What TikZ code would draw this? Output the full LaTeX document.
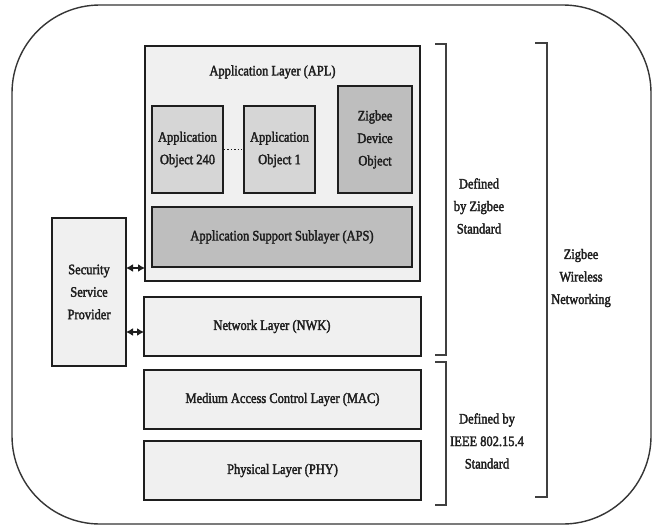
\documentclass[tikz,border=0pt]{standalone}
\usepackage{fontspec}
\setmainfont{Liberation Serif}[FakeStretch=0.86, FakeBold=2.2]
\usetikzlibrary{arrows.meta}
\definecolor{lightfill}{HTML}{F0F0F0}
\definecolor{midfill}{HTML}{D6D6D6}
\definecolor{darkfill}{HTML}{BEBEBE}
\definecolor{ink}{HTML}{1E1E1E}
\begin{document}
\begin{tikzpicture}[x=1pt,y=-1pt,
  every node/.style={font=\fontsize{14.5}{22.5}\selectfont, text=ink, align=center},
  layerbox/.style={draw=ink, line width=2pt, fill=lightfill, inner sep=0pt},
  objbox/.style={draw=ink, line width=2pt, fill=midfill, inner sep=0pt},
  darkbox/.style={draw=ink, line width=2pt, fill=darkfill, inner sep=0pt},
  bracketline/.style={draw=ink!85, line width=1.6pt},
  biarrow/.style={draw=ink, line width=2.4pt, {Latex[length=7pt,width=8pt]}-{Latex[length=7pt,width=8pt]}, shorten <=-1pt, shorten >=-1pt}
]
\useasboundingbox (0,0) rectangle (655,527);
\draw[draw=ink!90, line width=1.4pt, fill=white, rounded corners=88pt] (12,5) rectangle (651,524);

% Application layer
\node[layerbox, minimum width=275pt, minimum height=235pt] (apl) at (282.5,163.5) {};
\node (apltitle) at (272.5,72) {Application Layer (APL)};
\node[objbox, minimum width=71pt, minimum height=87pt] (ao240) at (187.5,149.5) {Application\\Object 240};
\node[objbox, minimum width=71pt, minimum height=87pt] (ao1) at (279.5,149.5) {Application\\Object 1};
\node[darkbox, minimum width=74pt, minimum height=107pt] (zdo) at (375,139.5) {Zigbee\\Device\\Object};
\node[darkbox, minimum width=260pt, minimum height=60pt] (aps) at (282,237) {Application Support Sublayer (APS)};
\draw[ink, line width=1.4pt, dotted] (ao240.east) -- (ao1.west);

% Lower layers
\node[layerbox, minimum width=277pt, minimum height=59pt] (nwk) at (282.5,326.5) {};
\node (nwktext) at (272,326.5) {Network Layer (NWK)};
\node[layerbox, minimum width=277pt, minimum height=59pt] (mac) at (282.5,399.5) {Medium Access Control Layer (MAC)};
\node[layerbox, minimum width=277pt, minimum height=59pt] (phy) at (282.5,470.5) {Physical Layer (PHY)};

% Security service provider
\node[layerbox, minimum width=74pt, minimum height=148pt] (ssp) at (89,292) {Security\\Service\\Provider};
\coordinate (ya) at (0,268);
\coordinate (yb) at (0,332);
\draw[biarrow] (ssp.east |- ya) -- (apl.west |- ya);
\draw[biarrow] (ssp.east |- yb) -- (nwk.west |- yb);

% Brackets
\coordinate (b1a) at (435,44);
\coordinate (b1b) at (446,44);
\coordinate (b1c) at (446,355);
\coordinate (b1d) at (435,355);
\draw[bracketline] (b1a) -- (b1b) -- (b1c) -- (b1d);
\coordinate (b2a) at (435,362);
\coordinate (b2b) at (446,362);
\coordinate (b2c) at (446,505);
\coordinate (b2d) at (435,505);
\draw[bracketline] (b2a) -- (b2b) -- (b2c) -- (b2d);
\coordinate (b3a) at (535,43);
\coordinate (b3b) at (547,43);
\coordinate (b3c) at (547,497);
\coordinate (b3d) at (535,497);
\draw[bracketline] (b3a) -- (b3b) -- (b3c) -- (b3d);

\node (zstd) at (479,206) {Defined\\by Zigbee\\Standard};
\node (istd) at (487,441) {Defined by\\IEEE 802.15.4\\Standard};
\node (zwn) at (581,278) {Zigbee\\Wireless\\Networking};
\end{tikzpicture}
\end{document}
